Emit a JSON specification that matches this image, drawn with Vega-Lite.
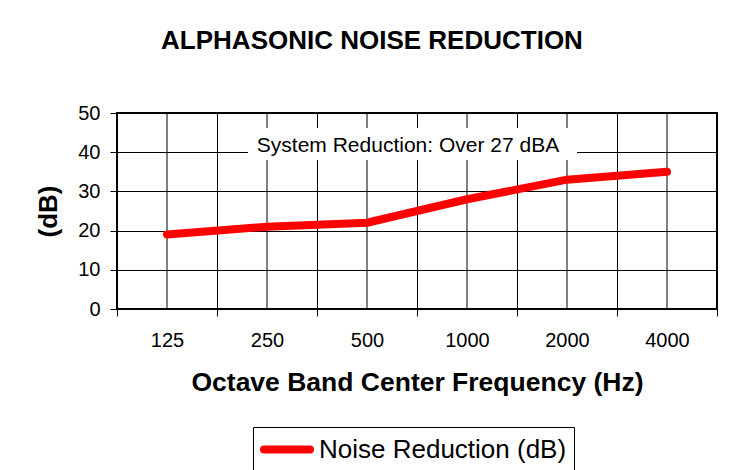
{
  "$schema": "https://vega.github.io/schema/vega-lite/v6.json",
  "width": 600,
  "height": 196,
  "autosize": "none",
  "padding": {"left": 117, "top": 113, "right": 12, "bottom": 161},
  "background": "white",
  "config": {
    "font": "Liberation Sans",
    "view": {"stroke": "black", "strokeWidth": 2},
    "axis": {"domain": false, "gridColor": "black", "gridOpacity": 1, "gridWidth": 1, "tickColor": "black", "tickWidth": 1, "tickSize": 7, "labelColor": "black", "titleColor": "black", "labelFont": "Liberation Sans", "titleFont": "Liberation Sans", "labelOverlap": false}
  },
  "title": {"text": "ALPHASONIC NOISE REDUCTION", "fontSize": 26, "fontWeight": "bold", "font": "Liberation Sans", "color": "black", "anchor": "middle", "frame": "group", "dx": -45, "offset": 49},
  "datasets": {
    "bands": [
      {"freq": "125", "reduction": 19},
      {"freq": "250", "reduction": 21},
      {"freq": "500", "reduction": 22},
      {"freq": "1000", "reduction": 28},
      {"freq": "2000", "reduction": 33},
      {"freq": "4000", "reduction": 35}
    ],
    "note": [
      {"label": "System Reduction: Over 27 dBA", "from": "250", "to": "2000", "at": "500", "value": 40, "low": 38, "high": 46.2}
    ]
  },
  "data": {"name": "bands"},
  "layer": [
    {"mark": {"type": "rule", "color": "black", "strokeWidth": 1},
      "encoding": {
        "x": {"field": "freq", "type": "ordinal",
          "scale": {"type": "band", "domain": ["125", "250", "500", "1000", "2000", "4000"], "paddingInner": 0, "paddingOuter": 0},
          "axis": {"title": "Octave Band Center Frequency (Hz)", "labelAngle": 0, "labelFontSize": 20, "labelPadding": 14, "titleFontSize": 26.5, "titleFontWeight": "bold", "titlePadding": 19, "grid": true, "tickBand": "extent"}}
      }},
    {"data": {"name": "note"},
      "mark": {"type": "rect", "color": "white", "opacity": 1, "xOffset": -19, "x2Offset": 10},
      "encoding": {
        "x": {"field": "from", "type": "ordinal"},
        "x2": {"field": "to"},
        "y": {"field": "low", "type": "quantitative",
          "scale": {"domain": [0, 50], "nice": false},
          "axis": {"title": "(dB)", "values": [0, 10, 20, 30, 40, 50], "tickCount": 6, "labelFontSize": 20, "labelPadding": 10, "titleFontSize": 26, "titleFontWeight": "bold", "titlePadding": 16, "grid": true}},
        "y2": {"field": "high"}
      }},
    {"data": {"name": "note"},
      "mark": {"type": "text", "fontSize": 21, "align": "center", "baseline": "alphabetic", "dx": 41, "color": "black"},
      "encoding": {
        "x": {"field": "at", "type": "ordinal"},
        "y": {"field": "value", "type": "quantitative",
          "scale": {"domain": [0, 50], "nice": false},
          "axis": {"title": "(dB)", "values": [0, 10, 20, 30, 40, 50], "tickCount": 6, "labelFontSize": 20, "labelPadding": 10, "titleFontSize": 26, "titleFontWeight": "bold", "titlePadding": 16, "grid": true}},
        "text": {"field": "label"}
      }},
    {"mark": {"type": "line", "strokeWidth": 8, "strokeCap": "round", "strokeJoin": "round"},
      "encoding": {
        "x": {"field": "freq", "type": "ordinal"},
        "y": {"field": "reduction", "type": "quantitative",
          "scale": {"domain": [0, 50], "nice": false},
          "axis": {"title": "(dB)", "values": [0, 10, 20, 30, 40, 50], "tickCount": 6, "labelFontSize": 20, "labelPadding": 10, "titleFontSize": 26, "titleFontWeight": "bold", "titlePadding": 16, "grid": true}},
        "color": {"datum": "Noise Reduction (dB)", "type": "nominal",
          "scale": {"range": ["#ff0000"]},
          "legend": {"title": null, "orient": "none", "legendX": 136, "legendY": 314, "strokeColor": "black", "padding": 7, "symbolType": "M-1,0H3", "symbolStrokeWidth": 8, "symbolSize": 529, "labelFontSize": 26, "labelLimit": 500, "labelColor": "black", "labelOffset": 28, "encode": {"symbols": {"update": {"strokeCap": {"value": "round"}}}}}}
      }}
  ]
}
